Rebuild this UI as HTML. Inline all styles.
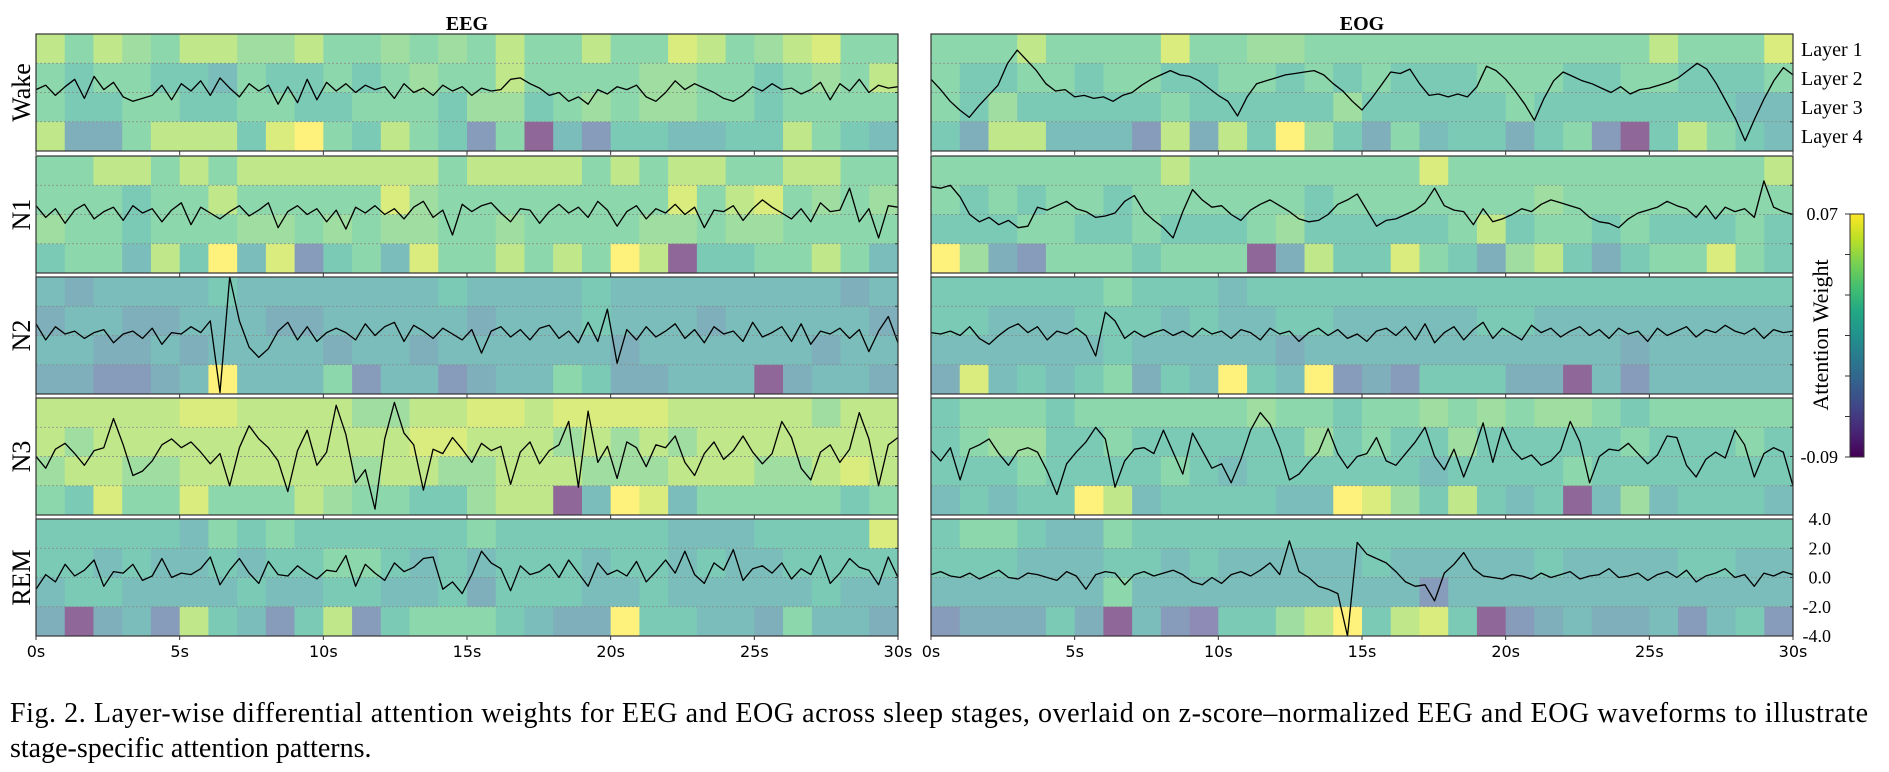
<!DOCTYPE html>
<html><head><meta charset="utf-8"><title>Layer-wise differential attention</title>
<style>
html,body{margin:0;padding:0;background:#fff;}
svg{display:block;}
text{font-family:"Liberation Serif","DejaVu Serif",serif;fill:#000;}
.sans{font-family:"DejaVu Sans","Liberation Sans",sans-serif;}
</style></head>
<body>
<svg id="fig" width="1889" height="772" viewBox="0 0 1889 772" xmlns="http://www.w3.org/2000/svg">
<defs>
<linearGradient id="vir" x1="0" y1="1" x2="0" y2="0">
<stop offset="0" stop-color="#440154"/><stop offset="0.1" stop-color="#482475"/><stop offset="0.2" stop-color="#414487"/><stop offset="0.3" stop-color="#355f8d"/><stop offset="0.4" stop-color="#2a788e"/><stop offset="0.5" stop-color="#21918c"/><stop offset="0.6" stop-color="#22a884"/><stop offset="0.7" stop-color="#44bf70"/><stop offset="0.8" stop-color="#7ad151"/><stop offset="0.9" stop-color="#bddf26"/><stop offset="1" stop-color="#fde725"/>
</linearGradient>
</defs>
<text x="467" y="30" font-size="20" font-weight="bold" text-anchor="middle">EEG</text>
<text x="1362" y="30" font-size="20" font-weight="bold" text-anchor="middle">EOG</text>
<g id="panels"></g>
<g font-size="20">
<text x="1801" y="56">Layer 1</text>
<text x="1801" y="85">Layer 2</text>
<text x="1801" y="114">Layer 3</text>
<text x="1801" y="143">Layer 4</text>
</g>
<g>
<rect x="1850" y="214" width="14" height="243" fill="url(#vir)" stroke="#333" stroke-width="1"/>
<g id="cbticks"></g>
<text x="1838" y="220" font-size="18" text-anchor="end">0.07</text>
<text x="1838" y="463" font-size="18" text-anchor="end">-0.09</text>
<text transform="translate(1828,335) rotate(-90)" font-size="22" text-anchor="middle">Attention Weight</text>
</g>
<g id="yaxis" font-size="18"></g>
<g font-size="28">
<text x="10" y="722" textLength="1858" lengthAdjust="spacing">Fig. 2.  Layer-wise differential attention weights for EEG and EOG across sleep stages, overlaid on z-score–normalized EEG and EOG waveforms to illustrate</text>
<text x="10" y="757">stage-specific attention patterns.</text>
</g>
</svg>
<script>
// ---- data ----
const stages = ["Wake","N1","N2","N3","REM"];
const modalities = ["EEG","EOG"];
const xTickLabels = ["0s","5s","10s","15s","20s","25s","30s"];
const yTickLabels = ["4.0","2.0","0.0","-2.0","-4.0"];
const yTickValues = [4,2,0,-2,-4];
const cbMin = -0.09, cbMax = 0.07;
// attention weights in units of 1e-3, 30 one-second windows per layer
const eegWakeL1=[45,20,45,30,20,45,45,30,30,45,20,20,30,20,30,20,45,20,20,45,20,20,55,45,20,30,45,55,20,20];
const eegWakeL2=[20,5,20,20,5,5,-10,20,5,5,20,5,20,30,20,20,45,20,20,20,20,30,30,20,20,5,20,30,20,45];
const eegWakeL3=[20,5,5,20,20,5,5,20,20,5,5,20,20,20,5,30,30,5,20,30,20,30,30,20,20,5,20,20,20,20];
const eegWakeL4=[45,-25,-25,20,45,45,45,5,55,70,20,5,45,20,5,-45,20,-90,-10,-45,5,5,-10,-10,5,5,45,20,5,-10];
const eegN1L1=[20,20,45,45,20,45,20,45,45,45,45,45,45,45,20,45,45,45,45,20,45,20,45,45,20,20,45,45,20,20];
const eegN1L2=[20,20,20,5,20,20,45,20,20,20,20,20,55,30,20,20,20,20,20,20,20,20,55,20,45,55,20,30,20,30];
const eegN1L3=[30,20,20,5,20,20,20,30,30,20,30,20,30,30,20,20,30,20,20,20,20,30,30,20,30,30,20,20,20,20];
const eegN1L4=[5,20,20,-10,45,5,70,-10,55,-45,5,20,-10,55,20,20,45,20,45,20,70,45,-90,5,5,20,20,45,20,-10];
const eegN2L1=[-10,-25,-10,-10,-10,-10,5,-10,-10,-10,-10,-10,-10,-10,5,-10,-10,-10,-10,5,-10,-10,-10,-10,-10,-10,-10,-10,-25,-10];
const eegN2L2=[-25,-10,-10,-25,-25,-10,-10,-10,-25,-25,-10,-10,-10,-10,-10,-25,-10,-10,-10,5,-10,-10,-10,-25,-10,-10,-10,-10,-10,-25];
const eegN2L3=[-10,-10,-25,-25,-10,-25,-10,-10,-10,-10,-25,-10,-10,-25,-10,-10,-10,-10,-10,-10,-25,-10,-10,-10,-10,-10,-10,-25,-10,-10];
const eegN2L4=[-25,-25,-45,-45,-25,-10,70,-10,-10,-10,20,-45,-10,-10,-45,-25,-10,-10,20,5,-25,-25,-10,-10,-10,-90,-25,-10,-10,-25];
const eegN3L1=[45,45,45,45,45,55,55,45,45,45,45,30,30,45,45,55,55,45,55,55,55,55,45,45,45,45,45,30,45,45];
const eegN3L2=[45,30,45,45,45,45,45,45,45,45,45,45,45,55,55,45,45,45,30,45,30,45,30,45,45,45,45,45,45,45];
const eegN3L3=[30,45,45,30,30,45,45,45,45,45,45,30,45,45,30,30,45,45,45,30,30,30,45,45,45,30,30,45,55,45];
const eegN3L4=[20,5,55,20,20,55,20,20,20,45,30,20,20,5,5,30,45,45,-90,-10,70,55,-10,20,20,20,20,20,5,20];
const eegRemL1=[5,5,5,5,5,-10,20,5,20,5,5,5,5,5,5,20,5,5,5,5,5,5,-10,-10,-10,5,5,5,5,55];
const eegRemL2=[5,5,-10,5,-10,-10,5,-10,5,5,20,20,5,-10,5,-10,5,5,5,-10,5,5,-10,5,-10,-10,5,5,5,5];
const eegRemL3=[-10,5,5,-10,-10,-10,-10,5,-10,-10,5,5,-10,-10,5,-25,5,5,5,-10,-10,5,-10,-10,-10,-10,-10,5,-10,-10];
const eegRemL4=[-25,-90,-25,-10,-45,45,5,-10,-45,5,45,-45,5,20,20,20,5,-10,-25,-25,70,5,5,-10,-10,-25,20,-10,-10,-25];
const eogWakeL1=[20,20,20,45,20,20,20,20,55,20,20,30,30,20,20,20,20,20,20,20,20,20,20,20,20,45,20,20,20,55];
const eogWakeL2=[20,5,5,20,20,5,20,20,5,5,20,20,5,20,5,20,5,5,5,20,20,20,5,5,20,20,5,5,5,20];
const eogWakeL3=[20,5,30,5,5,5,5,5,20,5,5,5,5,5,30,5,5,5,5,5,20,5,5,5,5,5,5,5,-10,-10];
const eogWakeL4=[5,-25,45,45,-10,-10,-10,-45,45,-25,45,5,70,30,5,-25,20,-10,5,5,-25,5,20,-45,-90,5,45,20,5,-10];
const eogN1L1=[20,20,20,20,20,20,20,20,45,20,20,20,20,20,20,20,20,55,20,20,20,20,20,20,20,20,20,20,20,45];
const eogN1L2=[20,5,20,5,20,20,5,20,20,20,20,20,20,5,20,20,20,20,20,20,20,30,20,20,20,20,20,20,20,20];
const eogN1L3=[5,5,5,20,20,5,5,20,5,5,5,20,30,5,5,5,5,5,20,45,5,20,20,5,20,5,5,5,20,5];
const eogN1L4=[70,30,-25,-45,20,20,20,5,20,20,20,-90,-25,45,5,5,55,20,5,-25,30,45,5,-25,5,20,20,55,20,5];
const eogN2L1=[5,5,5,5,5,5,20,5,5,5,-10,5,5,5,5,5,5,5,5,5,5,5,5,5,5,5,5,5,5,5];
const eogN2L2=[5,5,-10,-10,-10,5,5,5,-10,5,-10,-10,5,5,-10,-10,-10,-10,-10,5,5,-10,-10,-10,-10,-10,-10,-10,-10,-10];
const eogN2L3=[-10,-10,-10,-10,-10,-10,5,-10,-10,-10,-10,-10,-25,-10,-10,-10,-10,-10,-10,-10,-10,-10,-10,-10,-25,-10,-10,-10,-10,-10];
const eogN2L4=[-25,55,-10,5,-10,5,20,-25,5,-10,70,5,-10,70,-45,-25,-45,5,5,5,-25,-25,-90,-10,-45,-10,-10,-10,-10,-10];
const eogN3L1=[5,20,20,20,5,20,20,20,20,20,20,30,20,20,5,20,20,30,20,30,20,30,30,20,5,20,20,20,20,20];
const eogN3L2=[5,20,30,30,5,5,20,5,5,5,5,5,5,30,5,20,5,5,30,5,5,5,5,5,20,5,5,5,20,5];
const eogN3L3=[5,5,5,20,5,5,5,5,20,5,-10,5,5,5,5,5,5,-10,5,5,5,5,20,5,5,5,5,5,5,5];
const eogN3L4=[-10,5,-10,5,5,70,45,-10,5,5,5,5,-10,-10,70,55,30,5,45,5,-10,5,-90,-10,30,-10,5,5,5,-10];
const eogRemL1=[5,20,20,5,-10,-10,20,5,5,5,5,5,5,5,5,5,5,5,5,5,5,5,5,5,5,5,5,5,5,5];
const eogRemL2=[5,5,5,-10,-10,-10,5,5,-10,5,-10,-10,-10,-10,-10,5,-10,-10,-10,-10,-10,5,-10,-10,-10,-10,5,5,-10,-10];
const eogRemL3=[-10,-10,-10,-10,-10,-10,20,-10,-10,-10,-10,-10,-10,-10,-10,-10,-10,-45,-10,-10,-10,-10,-10,-10,-10,-10,-10,-10,-10,-10];
const eogRemL4=[-45,-25,-25,-25,5,-25,-90,-10,-45,-60,5,5,30,45,70,5,45,55,5,-90,-45,-25,-10,-25,-25,-10,-45,-10,5,-45];
// z-scored waveforms, sampled every 1/3 s
const eegWakeWave=[0.2,0.5,-0.2,0.4,0.9,-0.4,1.1,0.2,0.7,-0.3,-0.6,-0.4,-0.2,0.5,-0.5,0.6,0.1,0.8,-0.2,1.0,0.3,-0.3,0.6,0.1,0.5,-0.8,0.4,-0.7,0.9,-0.5,0.7,0.1,0.6,0.0,0.5,0.2,0.4,-0.4,0.6,0.0,0.3,-0.2,0.5,0.1,0.4,-0.2,0.3,0.1,0.2,0.9,1.0,0.6,0.3,-0.2,0.0,-0.6,-0.3,-0.8,0.2,-0.1,0.4,0.2,0.5,-0.3,-0.6,0.0,0.8,0.2,0.6,0.3,0.0,-0.4,-0.6,-0.2,0.4,0.1,0.6,0.2,0.3,-0.1,0.2,0.7,-0.5,0.6,0.1,0.9,0.0,0.5,0.3,0.4];
const eogWakeWave=[0.9,0.2,-0.6,-1.2,-1.7,-0.9,-0.2,0.5,2.0,2.9,2.2,1.5,0.6,0.1,0.2,-0.3,-0.2,-0.4,-0.3,-0.6,-0.2,0.0,0.5,0.9,1.2,1.5,1.2,1.1,0.8,0.3,-0.2,-0.6,-1.6,-0.3,0.6,0.8,1.0,1.2,1.3,1.4,1.5,1.2,0.6,0.1,-0.6,-1.2,-0.4,0.5,1.4,1.3,1.6,0.6,-0.2,-0.1,-0.3,-0.1,-0.3,0.4,1.8,1.5,0.9,0.1,-0.8,-1.9,-0.4,0.8,1.4,1.1,0.8,0.6,0.3,0.0,0.4,-0.1,0.2,0.3,0.5,0.7,1.0,1.5,2.0,1.6,0.6,-0.6,-1.8,-3.3,-1.8,-0.4,0.8,1.7,1.2];
const eegN1Wave=[0.6,-0.2,0.4,-0.6,0.3,0.7,-0.3,0.2,0.5,-0.4,0.6,0.1,0.4,-0.5,0.3,0.8,-0.7,0.5,0.1,-0.3,0.2,0.6,-0.1,0.3,0.8,-0.9,0.2,0.6,0.0,0.4,-0.5,0.3,-1.0,0.5,0.1,0.6,0.0,0.4,-0.3,0.5,0.9,-0.2,0.3,-1.4,0.7,0.2,0.6,0.8,0.1,-0.5,0.4,0.3,-0.6,0.2,0.7,0.1,0.5,-0.2,0.9,0.3,-0.8,0.2,0.6,-0.3,0.4,0.1,0.7,0.0,0.5,-0.9,0.3,0.2,0.6,-0.4,0.4,1.0,0.5,0.1,-0.3,0.4,-0.5,0.8,0.2,0.3,1.8,-0.5,0.4,-1.6,0.6,0.5];
const eogN1Wave=[1.9,1.8,2.0,1.2,0.0,-0.5,-0.2,-0.7,-0.4,-0.9,-0.8,0.5,0.3,0.6,0.9,0.4,0.2,-0.2,-0.1,0.1,0.9,1.3,0.2,-0.4,-0.9,-1.6,0.2,1.7,1.0,0.5,0.6,0.0,-0.4,0.3,0.7,1.0,0.6,0.2,-0.3,-0.5,-0.4,0.0,0.7,1.0,1.4,0.3,-0.8,-0.4,-0.3,0.0,0.3,0.8,1.8,0.6,0.3,0.2,-0.7,0.4,-0.5,-0.3,0.0,0.4,0.2,0.7,1.0,0.8,0.6,0.4,-0.2,-0.5,-0.6,-0.9,-0.3,0.1,0.3,0.5,0.9,0.6,0.4,-0.2,0.6,-0.3,0.5,0.2,0.4,-0.2,2.3,0.5,0.2,0.0];
const eegN2Wave=[0.8,-0.3,0.6,0.1,0.3,-0.2,0.2,0.4,-0.5,0.1,0.3,-0.2,0.5,-0.6,0.2,0.1,0.6,0.2,1.0,-3.9,4.0,1.0,-0.8,-1.5,-0.9,0.3,0.9,-0.3,0.6,-0.4,0.2,0.5,0.2,-0.3,0.8,0.0,0.6,0.9,-0.4,0.7,0.3,-0.2,0.5,0.1,-0.3,0.4,-1.2,0.3,0.6,-0.1,0.4,-0.3,0.5,0.7,-0.2,0.3,-0.5,0.9,-0.4,1.8,-1.9,0.4,-0.3,0.6,-0.1,0.3,0.8,-0.2,0.4,-0.5,0.6,0.1,0.3,-0.4,0.9,-0.1,0.2,0.6,-0.4,0.8,-0.6,0.3,0.1,0.5,-0.2,0.4,-1.1,0.3,1.3,-0.5];
const eogN2Wave=[0.2,0.1,0.3,0.0,0.6,-0.2,-0.6,0.0,0.5,0.8,0.2,0.6,-0.3,0.3,0.1,0.5,0.0,-1.4,1.6,1.0,-0.2,0.3,-0.1,0.2,0.4,0.0,0.3,-0.1,0.5,0.1,0.3,-0.2,0.4,0.2,-0.3,0.5,0.1,0.3,-0.4,0.2,0.5,0.0,0.4,-0.2,0.1,-0.4,0.3,0.5,0.0,0.6,-0.3,0.8,-0.5,0.2,0.6,-0.3,0.4,0.9,-0.2,0.5,0.1,-0.3,0.7,0.2,0.5,-0.1,0.3,0.6,0.0,0.4,-0.2,0.5,0.1,0.3,-0.4,0.5,0.0,0.3,0.6,-0.1,0.4,0.2,0.7,0.3,0.1,0.5,-0.2,0.4,0.2,0.3];
const eegN3Wave=[0.0,-0.8,0.5,0.9,0.2,-0.6,0.4,0.6,2.6,0.8,-1.3,-1.0,-0.3,0.8,1.2,0.6,1.0,0.3,-0.5,0.2,-2.0,0.6,2.1,1.2,0.6,-0.3,-2.4,0.4,1.8,-0.6,0.3,3.5,1.5,-1.8,-0.9,-3.6,1.2,3.7,1.6,0.8,-2.3,0.5,0.2,1.3,0.5,-0.4,0.9,0.4,0.7,-1.9,0.3,1.0,-0.5,0.4,0.8,2.4,-2.1,3.1,-0.4,0.7,-1.5,1.0,0.6,-0.7,0.8,0.6,1.4,-0.4,-1.3,0.2,1.0,-0.2,0.4,1.4,0.3,-0.5,0.2,2.4,1.3,-0.8,-1.6,0.3,0.8,-0.4,0.5,3.0,1.2,-2.0,0.8,1.3];
const eogN3Wave=[0.4,-0.3,0.6,-1.6,0.5,0.8,1.2,0.2,-0.6,0.4,0.6,0.3,-1.0,-2.6,-0.5,0.3,1.0,2.0,1.2,-2.1,-0.3,0.5,0.6,0.2,1.8,0.3,-1.2,1.6,0.4,-0.8,-0.5,-1.8,-0.2,1.8,3.0,2.2,0.6,-1.6,-1.2,-0.4,0.3,1.9,0.2,-0.8,0.0,0.2,1.3,-0.3,-0.6,0.2,1.0,2.0,0.0,-0.9,0.5,-1.4,0.3,2.3,-0.4,2.0,0.5,-0.2,0.1,-0.6,-0.3,0.4,2.4,1.0,-1.8,0.0,0.5,0.4,0.9,0.2,-0.5,0.1,1.4,1.3,-0.6,-1.4,-0.2,0.3,-0.1,1.8,0.8,-1.4,0.2,0.6,0.3,-2.0];
const eegRemWave=[-0.8,0.2,-0.3,0.9,0.1,0.5,1.2,-0.6,0.4,0.3,0.9,-0.2,0.1,1.3,0.0,0.3,0.2,0.6,1.4,-0.5,0.5,1.3,0.3,-0.4,1.1,0.2,0.1,0.8,0.3,-0.1,0.5,0.4,1.5,-0.6,0.9,0.3,-0.2,1.0,0.4,0.7,1.3,1.4,-0.8,-0.3,-1.1,0.2,1.8,1.0,0.6,-0.9,0.8,0.2,0.4,0.9,0.0,1.2,0.3,-0.6,1.0,0.2,0.5,0.1,1.1,-0.3,0.4,1.2,0.3,1.8,0.2,-0.4,1.0,0.5,1.9,-0.2,0.6,0.8,0.3,1.0,-0.1,0.6,0.2,1.5,-0.4,0.3,1.3,0.7,0.5,-0.5,1.4,0.0];
const eogRemWave=[0.2,0.4,0.1,0.0,0.3,-0.1,0.2,0.5,0.0,-0.1,0.3,0.2,0.0,-0.2,0.4,0.1,-0.8,0.2,0.4,0.3,-0.5,0.2,0.4,0.1,0.3,0.5,0.2,-0.3,-0.5,0.0,-0.4,0.2,0.4,0.1,0.5,1.0,0.2,2.5,0.4,0.0,-0.6,-0.8,-1.1,-4.0,2.4,1.6,1.3,1.0,0.4,-0.3,-0.6,-0.5,-1.6,0.3,0.9,1.7,0.6,0.1,0.0,-0.1,0.2,0.1,-0.1,0.3,0.0,0.2,0.4,-0.1,0.1,0.2,0.6,0.0,0.1,0.3,-0.2,0.2,0.4,0.0,0.5,-0.3,0.1,0.3,0.6,0.0,0.2,-0.6,0.3,0.1,0.4,0.2];

const heat = {
 EEG:{Wake:[eegWakeL1,eegWakeL2,eegWakeL3,eegWakeL4],N1:[eegN1L1,eegN1L2,eegN1L3,eegN1L4],N2:[eegN2L1,eegN2L2,eegN2L3,eegN2L4],N3:[eegN3L1,eegN3L2,eegN3L3,eegN3L4],REM:[eegRemL1,eegRemL2,eegRemL3,eegRemL4]},
 EOG:{Wake:[eogWakeL1,eogWakeL2,eogWakeL3,eogWakeL4],N1:[eogN1L1,eogN1L2,eogN1L3,eogN1L4],N2:[eogN2L1,eogN2L2,eogN2L3,eogN2L4],N3:[eogN3L1,eogN3L2,eogN3L3,eogN3L4],REM:[eogRemL1,eogRemL2,eogRemL3,eogRemL4]}
};
const waves = {
 EEG:{Wake:eegWakeWave,N1:eegN1Wave,N2:eegN2Wave,N3:eegN3Wave,REM:eegRemWave},
 EOG:{Wake:eogWakeWave,N1:eogN1Wave,N2:eogN2Wave,N3:eogN3Wave,REM:eogRemWave}
};

// ---- layout ----
const NS="http://www.w3.org/2000/svg";
const colLeft=[36,931], W=862, H=117;
const rowTop=[34,156,277,398,519];
const stops=[[68,1,84],[72,36,117],[65,68,135],[53,95,141],[42,120,142],[33,145,140],[34,168,132],[68,191,112],[122,209,81],[189,223,38],[253,231,37]];
function viridis(t){t=Math.max(0,Math.min(1,t));const f=t*10,i=Math.min(9,Math.floor(f)),r=f-i;const a=stops[i],b=stops[i+1];
 const c=[0,1,2].map(k=>Math.round(a[k]+(b[k]-a[k])*r));return c;}
function faded(v){const c=viridis((v-cbMin)/(cbMax-cbMin));return "rgb("+c.map(x=>Math.round(0.6*x+0.4*255)).join(",")+")";}
function mk(tag,attrs,parent){const e=document.createElementNS(NS,tag);for(const k in attrs)e.setAttribute(k,attrs[k]);parent.appendChild(e);return e;}

const panels=document.getElementById("panels");
modalities.forEach((mod,mi)=>{
 stages.forEach((st,si)=>{
  const L=colLeft[mi],T=rowTop[si];
  const xs=t=>L+t/30*W;
  const ys=v=>T+(4-v)/8*H;
  const g=mk("g",{},panels);
  
  
  const layers=heat[mod][st];
  layers.forEach((arr,li)=>{
   arr.forEach((val,ci)=>{
    const x0=xs(ci),x1=xs(ci+1);
    const r=mk("rect",{x:x0.toFixed(2),y:ys(4-2*li).toFixed(2),width:(x1-x0+0.4).toFixed(2),height:(H/4+0.3).toFixed(2),fill:faded(val/1000)},g);
    
    
   });
  });
  [2,0,-2].forEach(v=>{
   const ln=mk("line",{x1:L,x2:L+W,y1:ys(v),y2:ys(v),stroke:"#888","stroke-width":0.8,"stroke-dasharray":"2,2"},g);
   
   
  });
  const w=waves[mod][st];
  let d="";
  w.forEach((v,i)=>{const x=xs(i/(w.length-1)*30),y=ys(Math.max(-4,Math.min(4,v)));d+=(i?"L":"M")+x.toFixed(1)+","+y.toFixed(1);});
  const p=mk("path",{d:d,fill:"none",stroke:"#000","stroke-width":1.3,"stroke-linejoin":"round"},g);
  
  
  yTickValues.forEach(v=>{
   const tk=mk("line",{x1:L+W-3,x2:L+W,y1:ys(v),y2:ys(v),stroke:"#333","stroke-width":1},g);
   
   
  });
  xTickLabels.forEach((lab,k)=>{
   const tx=xs(k*5);
   const tk=mk("line",{x1:tx,x2:tx,y1:T+H,y2:T+H+4,stroke:"#333","stroke-width":1},g);
   
   
   if(si===4){
    const t=mk("text",{x:tx,y:657,"font-size":16,"text-anchor":"middle",class:"sans"},g);
    t.textContent=lab;
    
    
   }
  });
  const fr=mk("rect",{x:L,y:T,width:W,height:H,fill:"none",stroke:"#333","stroke-width":1.2},g);
  
  
  if(mi===0){
   const t=mk("text",{transform:"translate(30,"+(T+H/2)+") rotate(-90)","font-size":26,"text-anchor":"middle"},g);
   t.textContent=st;
   
   
  }
 });
});
// right y-axis labels on REM EOG
const ya=document.getElementById("yaxis");
yTickValues.forEach((v,k)=>{
 const y=rowTop[4]+(4-v)/8*H;
 const t=mk("text",{x:1831,y:y+6,"text-anchor":"end"},ya);
 t.textContent=yTickLabels[k];
 
 
});
// colorbar ticks
const cbt=document.getElementById("cbticks");
for(let k=0;k<7;k++){
 const y=214+k*243/6;
 const l=mk("line",{x1:1845,x2:1850,y1:y,y2:y,stroke:"#333","stroke-width":1},cbt);
 
 
}
</script>
</body></html>
